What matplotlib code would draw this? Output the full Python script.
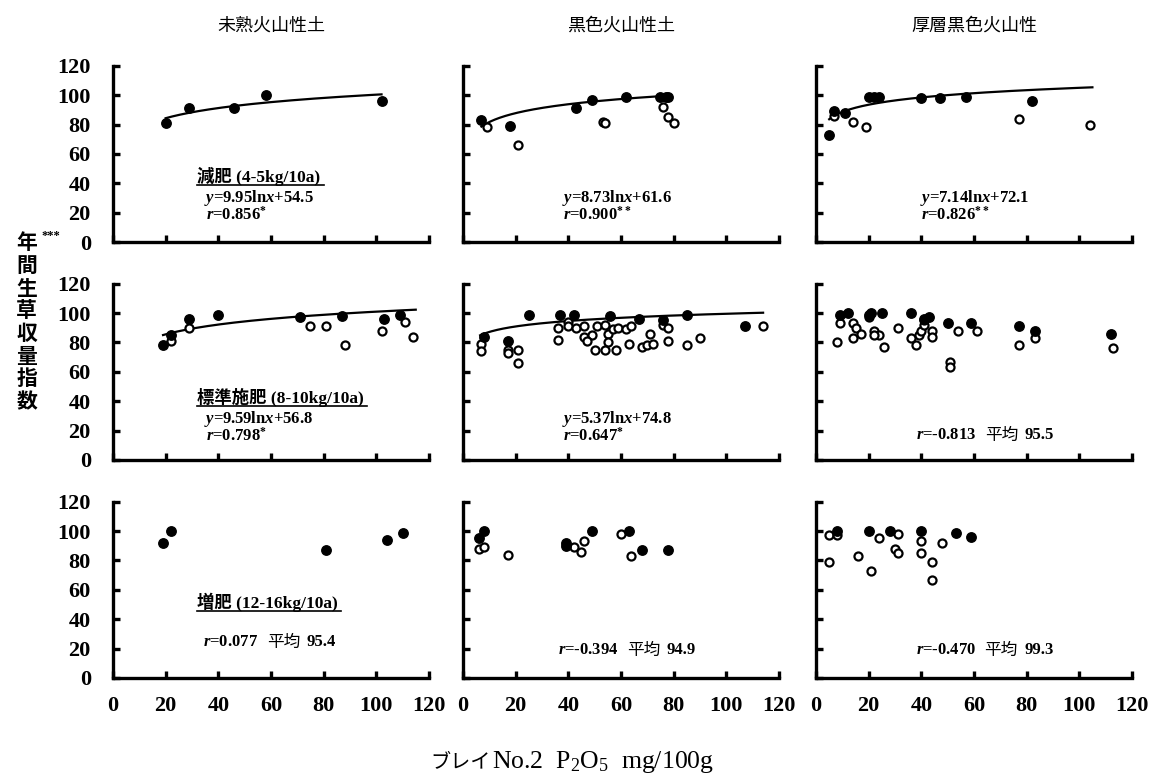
import numpy as np
import matplotlib
matplotlib.use('Agg')
import matplotlib.pyplot as plt

plt.rcParams['font.family'] = ['Liberation Serif', 'Noto Sans CJK JP']
plt.rcParams['mathtext.fontset'] = 'custom'
plt.rcParams['mathtext.rm'] = 'Liberation Serif:bold'
plt.rcParams['mathtext.it'] = 'Liberation Serif:italic:bold'
plt.rcParams['mathtext.bf'] = 'Liberation Serif:bold'

# 列の見出し (土壌) と行 (施肥量)
col_titles = ['未熟火山性土', '黒色火山性土', '厚層黒色火山性']
row_labels = ['減肥 (4-5kg/10a)', '標準施肥 (8-10kg/10a)', '増肥 (12-16kg/10a)']
ticks = [0, 20, 40, 60, 80, 100, 120]

# --- 減肥 ---
fx_00 = [20, 29, 46, 58, 102]
fy_00 = [81, 91, 91, 100, 96]
ox_00 = []
oy_00 = []

fx_01 = [7, 18, 43, 49, 62, 75, 77, 78]
fy_01 = [83, 79, 91, 97, 99, 99, 99, 99]
ox_01 = [9, 21, 53, 54, 76, 78, 80]
oy_01 = [78, 66, 82, 81, 92, 85, 81]

fx_02 = [5, 7, 11, 20, 22, 24, 40, 47, 57, 82]
fy_02 = [73, 89, 88, 99, 99, 99, 98, 98, 99, 96]
ox_02 = [7, 14, 19, 77, 104]
oy_02 = [86, 82, 78, 84, 80]

# --- 標準施肥 ---
fx_10 = [19, 22, 29, 40, 71, 87, 103, 109]
fy_10 = [78, 85, 96, 99, 97, 98, 96, 99]
ox_10 = [22, 29, 75, 81, 88, 102, 111, 114]
oy_10 = [81, 90, 91, 91, 78, 88, 94, 84]

fx_11 = [8, 17, 25, 37, 42, 56, 67, 76, 85, 107]
fy_11 = [84, 81, 99, 99, 99, 98, 96, 95, 99, 91]
ox_11 = [7, 7, 17, 17, 21, 21, 36, 36, 40, 40, 43, 46, 46, 49, 47, 50, 51, 54, 55,
         55, 54, 58, 57, 59, 62, 64, 63, 68, 70, 72, 71, 76, 78, 78, 85, 90, 114]
oy_11 = [79, 74, 75, 73, 75, 66, 90, 82, 94, 91, 90, 91, 84, 85, 81, 75, 91, 92, 86,
         80, 75, 75, 89, 90, 89, 91, 79, 77, 78, 79, 86, 92, 90, 81, 78, 83, 91]

fx_12 = [9, 12, 20, 21, 25, 36, 41, 43, 50, 59, 77, 83, 112]
fy_12 = [99, 100, 99, 100, 100, 100, 96, 97, 93, 93, 91, 88, 86]
ox_12 = [8, 9, 14, 15, 17, 14, 20, 22, 24, 22, 26, 31, 36, 38, 39, 40, 41, 41, 44,
         44, 51, 51, 54, 61, 77, 83, 113]
oy_12 = [80, 93, 93, 90, 86, 83, 97, 88, 85, 85, 77, 90, 83, 78, 85, 88, 92, 95, 88,
         84, 67, 63, 88, 88, 78, 83, 76]

# --- 増肥 ---
fx_20 = [19, 22, 81, 104, 110]
fy_20 = [92, 100, 87, 94, 99]
ox_20 = []
oy_20 = []

fx_21 = [6, 8, 39, 39, 49, 63, 68, 78]
fy_21 = [95, 100, 92, 90, 100, 100, 87, 87]
ox_21 = [6, 8, 17, 42, 45, 46, 60, 64]
oy_21 = [88, 89, 84, 89, 86, 93, 98, 83]

fx_22 = [8, 20, 28, 40, 53, 59]
fy_22 = [100, 100, 100, 100, 99, 96]
ox_22 = [5, 8, 5, 16, 21, 24, 31, 30, 31, 40, 40, 44, 44, 48]
oy_22 = [97, 97, 79, 83, 73, 95, 98, 88, 85, 93, 85, 79, 67, 92]

# 回帰式 y = a ln x + b (図中の式) と描画範囲
fit_a = {(0, 0): 9.95, (0, 1): 8.73, (0, 2): 7.14, (1, 0): 9.59, (1, 1): 5.37}
fit_b = {(0, 0): 54.5, (0, 1): 61.6, (0, 2): 72.1, (1, 0): 56.8, (1, 1): 74.8}
fit_range = {(0, 0): (20, 102), (0, 1): (7, 79), (0, 2): (5, 105),
             (1, 0): (19, 115), (1, 1): (6.5, 114)}

# 図中の注記
eq_text = {(0, 0): ['$y$=9.95ln$x$+54.5', '$r$=0.856$^{*}$'],
           (0, 1): ['$y$=8.73ln$x$+61.6', '$r$=0.900$^{**}$'],
           (0, 2): ['$y$=7.14ln$x$+72.1', '$r$=0.826$^{**}$'],
           (1, 0): ['$y$=9.59ln$x$+56.8', '$r$=0.798$^{*}$'],
           (1, 1): ['$y$=5.37ln$x$+74.8', '$r$=0.647$^{*}$']}
stat_r = {(1, 2): '-0.813', (2, 0): '0.077', (2, 1): '-0.394', (2, 2): '-0.470'}
stat_mean = {(1, 2): '95.5', (2, 0): '95.4', (2, 1): '94.9', (2, 2): '99.3'}

filled = {(0, 0): (fx_00, fy_00), (0, 1): (fx_01, fy_01), (0, 2): (fx_02, fy_02),
          (1, 0): (fx_10, fy_10), (1, 1): (fx_11, fy_11), (1, 2): (fx_12, fy_12),
          (2, 0): (fx_20, fy_20), (2, 1): (fx_21, fy_21), (2, 2): (fx_22, fy_22)}
opened = {(0, 0): (ox_00, oy_00), (0, 1): (ox_01, oy_01), (0, 2): (ox_02, oy_02),
          (1, 0): (ox_10, oy_10), (1, 1): (ox_11, oy_11), (1, 2): (ox_12, oy_12),
          (2, 0): (ox_20, oy_20), (2, 1): (ox_21, oy_21), (2, 2): (ox_22, oy_22)}

fig = plt.figure(figsize=(11.57, 7.8), dpi=100)

lefts = [0.0977, 0.4002, 0.7053]
bottoms = [0.6897, 0.4103, 0.1308]
w, h = 0.273, 0.226
txt = dict(fontsize=12, fontweight='bold', va='center')
cjk = ['Noto Sans CJK JP']

for r in range(3):
    for c in range(3):
        ax = fig.add_axes([lefts[c], bottoms[r], w, h])
        key = (r, c)
        if key in fit_a:
            x0, x1 = fit_range[key]
            xs = np.linspace(x0, x1, 200)
            ax.plot(xs, fit_a[key] * np.log(xs) + fit_b[key], color='black', lw=1.6)
        ox, oy = opened[key]
        if ox:
            ax.plot(ox, oy, 'o', ms=5.8, mfc='white', mec='black', mew=1.6,
                    ls='none', clip_on=False)
        fx, fy = filled[key]
        ax.plot(fx, fy, 'o', ms=6.8, color='black', ls='none', clip_on=False)

        ax.set_xlim(0, 120)
        ax.set_ylim(0, 120)
        ax.set_xticks(ticks)
        ax.set_yticks(ticks)
        for s in ['top', 'right']:
            ax.spines[s].set_visible(False)
        for s in ['left', 'bottom']:
            ax.spines[s].set_linewidth(2.4)
        ax.tick_params(direction='in', length=5, width=2.4, labelsize=16, pad=13)
        ax.tick_params(axis='y', pad=16)
        if c == 0:
            ax.set_yticklabels([str(t) for t in ticks], fontweight='bold')
        else:
            ax.set_yticklabels([])
        if r == 2:
            ax.set_xticklabels([str(t) for t in ticks], fontweight='bold')
        else:
            ax.set_xticklabels([])
        if r == 0:
            ax.set_title(col_titles[c], fontsize=13, pad=25, family=cjk)

        # 施肥区分のラベル (下線付き)
        if c == 0:
            ly = [44.7, 42.5, 51.8][r]
            lx_end = [80, 96.4, 86.5][r]
            ax.text(32, ly, row_labels[r], fontsize=12.5, fontweight='bold',
                    va='center')
            ax.plot([32, lx_end], [ly - 6, ly - 6], color='black', lw=1.2,
                    clip_on=False)
        if key in eq_text:
            ex = 34.7 if c == 0 else (37.5 if c == 1 else 39.4)
            ey = 30 if r == 0 else 28
            ax.text(ex, ey, eq_text[key][0], **txt)
            ax.text(ex + 0.5, ey - 11.5, eq_text[key][1], **txt)
        if key in stat_r:
            sx = [34.3, 36, 38][c]
            sy = 24.5 if key == (2, 0) else (17 if r == 1 else 19)
            t1 = ax.text(sx, sy, '$r$=' + stat_r[key], **txt)
            t2 = ax.annotate('平均', xy=(1, 0.5), xycoords=t1, xytext=(6, 0),
                             textcoords='offset points', va='center', ha='left',
                             fontsize=12, family=cjk)
            ax.annotate(stat_mean[key], xy=(1, 0.5), xycoords=t2, xytext=(5, 0),
                        textcoords='offset points', va='center', ha='left',
                        fontsize=12, fontweight='bold')

# 縦軸ラベル
fig.text(0.014, 0.587, '年\n間\n生\n草\n収\n量\n指\n数', fontsize=15, fontweight='bold',
         family=cjk, va='center', ha='left', linespacing=1.1)
fig.text(0.036, 0.697, '***', fontsize=9, fontweight='bold', va='center')

# 横軸ラベル
t_x = fig.text(0.3717, 0.023, 'ブレイ', fontsize=14.5, ha='left', va='center',
               family=cjk)
plt.annotate('No.2  P$\\mathregular{_2}$O$\\mathregular{_5}$  mg/100g', xy=(1, 0.5),
             xycoords=t_x, xytext=(1, 0), textcoords='offset points',
             ha='left', va='center', fontsize=18.5, family=['Liberation Serif'],
             annotation_clip=False)

fig.savefig('out.png', dpi=100)
